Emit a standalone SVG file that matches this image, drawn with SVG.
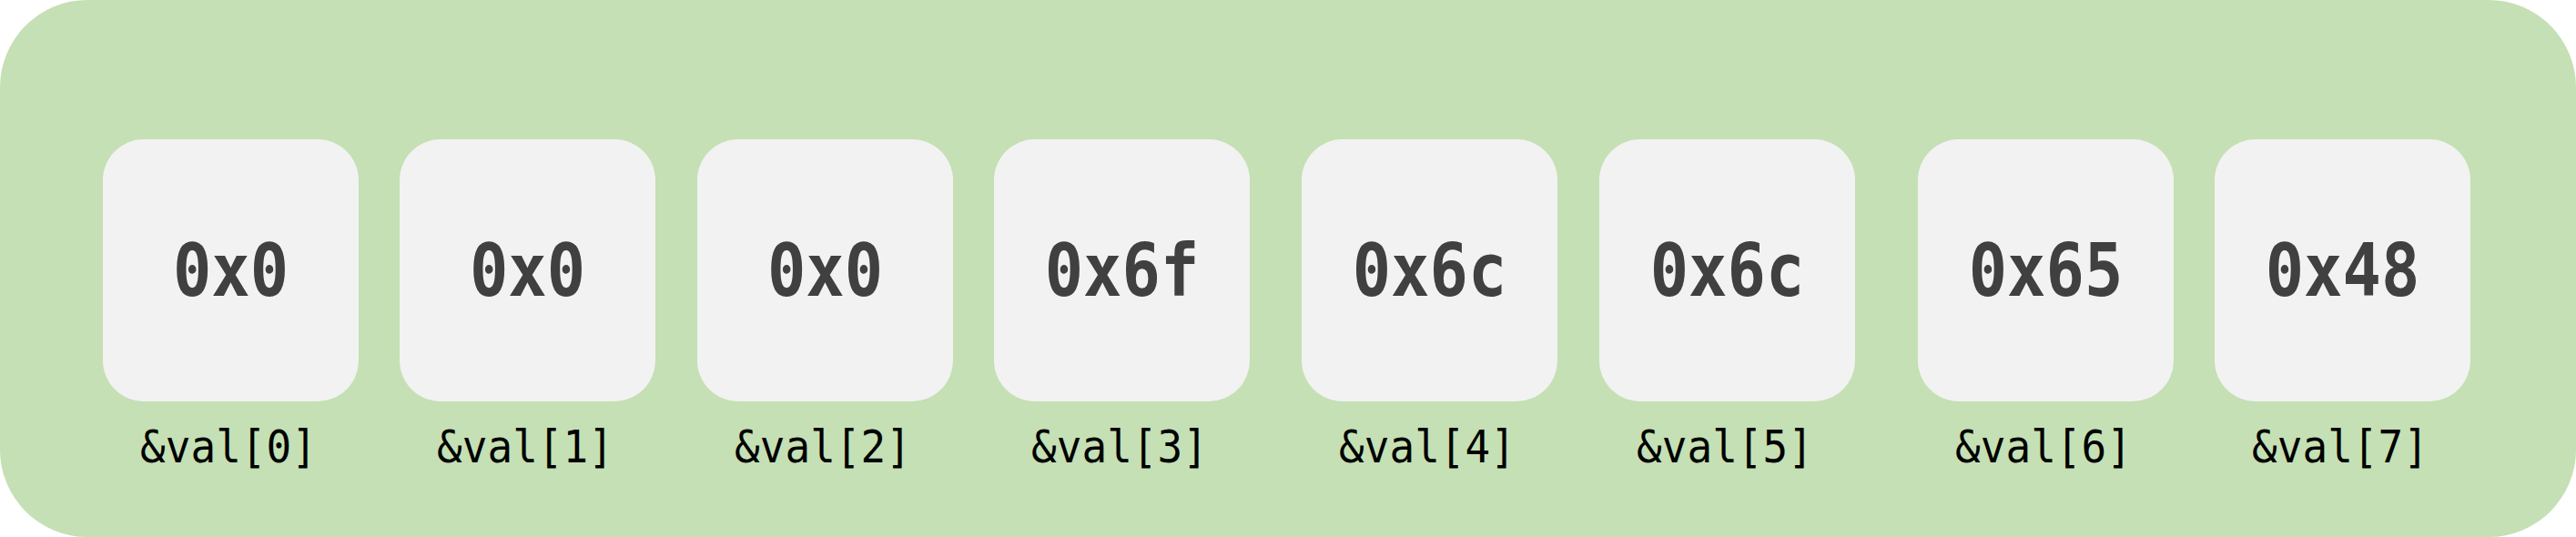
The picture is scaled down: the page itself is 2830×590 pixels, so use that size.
<svg xmlns="http://www.w3.org/2000/svg" width="2830" height="590" viewBox="0 0 2830 590">
<style>
.bg{fill:#c5e0b4}
.box{fill:#f2f2f2}
.val{font-family:"DejaVu Sans Mono","Liberation Mono",monospace;font-weight:bold;font-size:80px;fill:#404040;text-anchor:middle}
.lbl{font-family:"DejaVu Sans Mono","Liberation Mono",monospace;font-size:50px;fill:#000;text-anchor:middle}
</style>
<rect class="bg" x="0" y="0" width="2830" height="590" rx="96" ry="96"/>
<g id="node0"><rect class="box" x="113" y="153" width="281" height="288" rx="45"/><text class="val" transform="translate(253.5,325) scale(0.88,1)">0x0</text><text class="lbl" transform="translate(251,508) scale(0.92,1)">&amp;val[0]</text></g>
<g id="node1"><rect class="box" x="439" y="153" width="281" height="288" rx="45"/><text class="val" transform="translate(579.5,325) scale(0.88,1)">0x0</text><text class="lbl" transform="translate(577,508) scale(0.92,1)">&amp;val[1]</text></g>
<g id="node2"><rect class="box" x="766" y="153" width="281" height="288" rx="45"/><text class="val" transform="translate(906.5,325) scale(0.88,1)">0x0</text><text class="lbl" transform="translate(904,508) scale(0.92,1)">&amp;val[2]</text></g>
<g id="node3"><rect class="box" x="1092" y="153" width="281" height="288" rx="45"/><text class="val" transform="translate(1232.5,325) scale(0.88,1)">0x6f</text><text class="lbl" transform="translate(1230,508) scale(0.92,1)">&amp;val[3]</text></g>
<g id="node4"><rect class="box" x="1430" y="153" width="281" height="288" rx="45"/><text class="val" transform="translate(1570.5,325) scale(0.88,1)">0x6c</text><text class="lbl" transform="translate(1568,508) scale(0.92,1)">&amp;val[4]</text></g>
<g id="node5"><rect class="box" x="1757" y="153" width="281" height="288" rx="45"/><text class="val" transform="translate(1897.5,325) scale(0.88,1)">0x6c</text><text class="lbl" transform="translate(1895,508) scale(0.92,1)">&amp;val[5]</text></g>
<g id="node6"><rect class="box" x="2107" y="153" width="281" height="288" rx="45"/><text class="val" transform="translate(2247.5,325) scale(0.88,1)">0x65</text><text class="lbl" transform="translate(2245,508) scale(0.92,1)">&amp;val[6]</text></g>
<g id="node7"><rect class="box" x="2433" y="153" width="281" height="288" rx="45"/><text class="val" transform="translate(2573.5,325) scale(0.88,1)">0x48</text><text class="lbl" transform="translate(2571,508) scale(0.92,1)">&amp;val[7]</text></g>
<g id="connectors"></g>
</svg>
